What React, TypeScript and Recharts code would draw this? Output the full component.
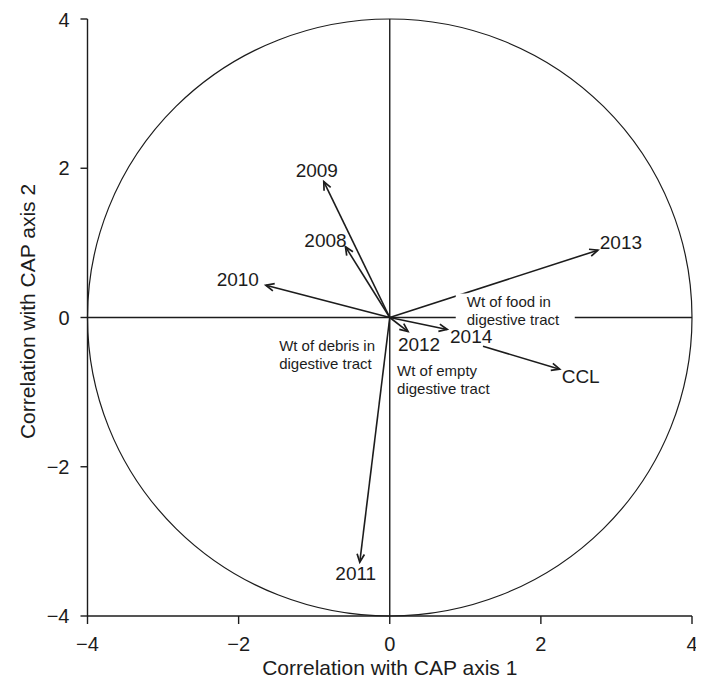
import {
  ScatterChart,
  Scatter,
  XAxis,
  YAxis,
  ReferenceLine,
  ReferenceArea,
  ReferenceDot,
} from "recharts";

const FONT = '"Liberation Sans", Arial, sans-serif';
const INK = "#1c1c1c";

const AXIS_TICKS = [-4, -2, 0, 2, 4];

// correlation of each year / CCL with CAP axes 1 and 2
const VECTOR_NAMES = ["2008", "2009", "2010", "2011", "2012", "2013", "2014", "CCL"];
const VECTOR_X = [-0.586, -0.873, -1.64, -0.397, 0.242, 2.755, 0.76, 2.249];
const VECTOR_Y = [0.948, 1.82, 0.433, -3.28, -0.188, 0.902, -0.16, -0.693];
// CCL is only drawn from where it clears the 2014 label
const VECTOR_START_X = [0, 0, 0, 0, 0, 0, 0, 1.234];
const VECTOR_START_Y = [0, 0, 0, 0, 0, 0, 0, -0.385];

// where each name sits relative to its arrow tip (px)
const LABEL_DX = [-20, -7, -28, -4, 11, 23, 24, 21];
const LABEL_DY = [-6, -11, -6, 11, 13, -8, 7, 7];

const NOTE_LINES = [
  ["Wt of food in", "digestive tract"],
  ["Wt of debris in", "digestive tract"],
  ["Wt of empty", "digestive tract"],
];
const NOTE_X = [1.019, -1.464, 0.097];
const NOTE_Y = [0.214, -0.379, -0.714];

const tips = VECTOR_NAMES.map((name, i) => ({ name, x: VECTOR_X[i], y: VECTOR_Y[i] }));

const minus = (v: number) => String(v).replace("-", "\u2212");

function arrowShape(i: number) {
  return (props: any) => {
    const { x1, y1, x2, y2 } = props;
    const ang = Math.atan2(y2 - y1, x2 - x1);
    const len = 9;
    const spread = 0.42;
    const a = [x2 - len * Math.cos(ang - spread), y2 - len * Math.sin(ang - spread)];
    const b = [x2 - len * Math.cos(ang + spread), y2 - len * Math.sin(ang + spread)];
    return (
      <g>
        <line x1={x1} y1={y1} x2={x2} y2={y2} stroke={INK} strokeWidth={1.6} />
        <polyline
          points={`${a[0]},${a[1]} ${x2},${y2} ${b[0]},${b[1]}`}
          fill="none"
          stroke={INK}
          strokeWidth={1.7}
        />
        <text
          x={x2 + LABEL_DX[i]}
          y={y2 + LABEL_DY[i]}
          textAnchor="middle"
          dominantBaseline="central"
          fontSize={19}
          fontFamily={FONT}
          fill={INK}
        >
          {VECTOR_NAMES[i]}
        </text>
      </g>
    );
  };
}

function noteShape(i: number) {
  return (props: any) => {
    const { cx, cy } = props;
    return (
      <g>
        {i === 0 && (
          <rect x={cx - 11} y={cy - 8} width={119} height={36} fill="#fff" />
        )}
        {NOTE_LINES[i].map((line, k) => (
          <text
            key={k}
            x={cx}
            y={cy + k * 17.5}
            dominantBaseline="central"
            fontSize={15}
            fontFamily={FONT}
            fill={INK}
          >
            {line}
          </text>
        ))}
      </g>
    );
  };
}

export default function App() {
  return (
    <ScatterChart
      width={696}
      height={670}
      margin={{ top: 11, right: 12, left: 0, bottom: 0 }}
      style={{ fontFamily: FONT }}
    >
      <XAxis
        type="number"
        dataKey="x"
        domain={[-4, 4]}
        ticks={AXIS_TICKS}
        tickFormatter={minus}
        height={62}
        tickSize={8}
        tickMargin={13}
        axisLine={{ stroke: INK, strokeWidth: 1.4 }}
        tickLine={{ stroke: INK, strokeWidth: 1.4 }}
        tick={{ fill: INK, fontSize: 20, fontFamily: FONT }}
        label={{
          content: ({ viewBox }: any) => (
            <text
              x={viewBox.x + viewBox.width / 2}
              y={viewBox.y + 59}
              textAnchor="middle"
              fontSize={21}
              fontFamily={FONT}
              fill={INK}
            >
              Correlation with CAP axis 1
            </text>
          ),
        }}
      />
      <YAxis
        type="number"
        dataKey="y"
        domain={[-4, 4]}
        ticks={AXIS_TICKS}
        tickFormatter={minus}
        width={79.5}
        tickSize={7}
        tickMargin={11}
        axisLine={{ stroke: INK, strokeWidth: 1.4 }}
        tickLine={{ stroke: INK, strokeWidth: 1.4 }}
        tick={{ fill: INK, fontSize: 20, fontFamily: FONT }}
        label={{
          content: ({ viewBox }: any) => {
            const cx = 27;
            const cy = viewBox.y + viewBox.height / 2 - 6;
            return (
              <text
                x={cx}
                y={cy}
                transform={`rotate(-90 ${cx} ${cy})`}
                textAnchor="middle"
                fontSize={21}
                fontFamily={FONT}
                fill={INK}
              >
                Correlation with CAP axis 2
              </text>
            );
          },
        }}
      />
      <ReferenceArea
        x1={-4}
        x2={4}
        y1={-4}
        y2={4}
        shape={(p: any) => (
          <ellipse
            cx={p.x + p.width / 2}
            cy={p.y + p.height / 2}
            rx={p.width / 2}
            ry={p.height / 2}
            fill="none"
            stroke={INK}
            strokeWidth={1.2}
          />
        )}
      />
      <ReferenceLine x={0} stroke={INK} strokeWidth={1.4} />
      <ReferenceLine y={0} stroke={INK} strokeWidth={1.4} />
      {VECTOR_NAMES.map((name, i) => (
        <ReferenceLine
          key={name}
          segment={[
            { x: VECTOR_START_X[i], y: VECTOR_START_Y[i] },
            { x: VECTOR_X[i], y: VECTOR_Y[i] },
          ]}
          shape={arrowShape(i)}
        />
      ))}
      {NOTE_LINES.map((_, i) => (
        <ReferenceDot key={i} x={NOTE_X[i]} y={NOTE_Y[i]} r={0} shape={noteShape(i)} />
      ))}
      <Scatter data={tips} isAnimationActive={false} shape={() => <g />} />
    </ScatterChart>
  );
}
